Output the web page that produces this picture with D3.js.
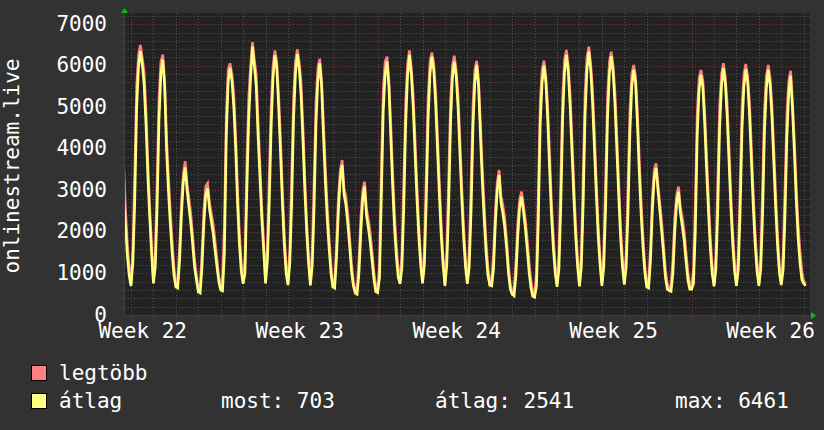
<!DOCTYPE html>
<html>
<head>
<meta charset="utf-8">
<script src="https://cdn.jsdelivr.net/npm/d3@7"></script>
<style>
  html, body { margin: 0; padding: 0; background: #323232; }
  svg { display: block; }
  text { font-family: "DejaVu Sans Mono", monospace; font-size: 21px; fill: #ffffff; }
</style>
</head>
<body>
<div id="chartContainer"></div>
<script>
var width = 824;
var height = 430;
var plot = {left: 124, right: 810, top: 13, bottom: 315};

// samples are 2 hour buckets, the first one starts 2023-05-31 16:00 UTC
var sampleStart = Date.UTC(2023, 4, 31, 16, 0);
var sampleStep = 2 * 3600 * 1000;

// average (átlag), one row per day, 12 buckets a day
var atlag = [
  2900, 2200, 1450, 950,
  700, 1250, 2700, 4950, 5950, 6350, 6050, 5550, 4600, 3350, 2350, 1500,
  760, 1150, 2600, 4700, 5800, 6150, 5500, 4000, 3000, 2200, 1500, 950,
  680, 650, 1300, 2400, 3200, 3550, 3000, 2600, 2200, 1700, 1150, 850,
  560, 530, 1150, 2200, 2900, 3050, 2550, 2250, 1950, 1550, 1150, 800,
  600, 580, 1500, 4300, 5600, 5950, 5650, 5000, 4000, 2700, 1700, 1050,
  750, 1000, 3000, 4700, 5700, 6461, 6000, 5500, 4300, 3300, 2300, 1550,
  760, 1300, 2700, 4500, 5700, 6250, 5950, 5000, 3900, 2700, 1700, 1000,
  720, 1250, 2700, 4700, 5800, 6280, 5950, 5300, 4200, 3000, 2000, 1250,
  710, 1200, 2600, 4600, 5650, 6060, 5500, 4300, 3200, 2300, 1600, 1000,
  680, 650, 1400, 2500, 3300, 3610, 2900, 2650, 2200, 1650, 1050, 700,
  530, 500, 1000, 2000, 2800, 3090, 2400, 2100, 1750, 1300, 850, 560,
  540, 900, 2900, 4900, 5800, 6100, 5500, 4300, 3100, 2100, 1400, 900,
  750, 1150, 2600, 4600, 5750, 6260, 5800, 5000, 3900, 2800, 1900, 1200,
  760, 1200, 2700, 4700, 5800, 6220, 5900, 5100, 4000, 2900, 1900, 1200,
  700, 1200, 2600, 4600, 5700, 6100, 5750, 5000, 3900, 2800, 1850, 1150,
  750, 1150, 2500, 4500, 5600, 6020, 5500, 4300, 3200, 2300, 1500, 950,
  720, 700, 1100, 2200, 3000, 3370, 2700, 2450, 2100, 1600, 1000, 620,
  500, 460, 950, 1900, 2600, 2850, 2500, 2100, 1600, 1050, 650, 450,
  430, 700, 2300, 4600, 5600, 6000, 5600, 4700, 3500, 2400, 1600, 1000,
  680, 1100, 2600, 4700, 5850, 6260, 5850, 5000, 3900, 2800, 1850, 1150,
  690, 1150, 2700, 4800, 5900, 6340, 5900, 5100, 4000, 2900, 1900, 1200,
  700, 1150, 2600, 4700, 5800, 6230, 5850, 5050, 3950, 2850, 1850, 1150,
  730, 1150, 2500, 4400, 5500, 5900, 5600, 4600, 3400, 2400, 1600, 1000,
  680, 650, 1300, 2500, 3300, 3530, 3000, 2500, 2000, 1450, 900, 620,
  590, 570, 1000, 2000, 2700, 2970, 2450, 2150, 1800, 1300, 850, 620,
  620, 750, 2000, 4300, 5400, 5780, 5500, 4600, 3500, 2500, 1600, 1000,
  690, 1100, 2500, 4500, 5500, 5940, 5600, 4800, 3700, 2600, 1700, 1050,
  700, 1100, 2500, 4500, 5500, 5910, 5600, 4800, 3700, 2600, 1700, 1050,
  700, 1100, 2400, 4400, 5450, 5900, 5550, 4750, 3650, 2550, 1650, 1000,
  720, 1100, 2400, 4300, 5350, 5760, 4950, 3900, 2750, 1850, 1250, 850,
  760, 703
];

// maximum (legtöbb), same buckets
var legtobb = [
  3700, 2600, 1750, 1150,
  750, 1600, 3400, 5500, 6250, 6500, 6200, 5850, 4950, 3680, 2630, 1700,
  810, 1500, 3300, 5250, 6100, 6270, 5650, 4300, 3350, 2530, 1780, 1150,
  720, 800, 1650, 2750, 3400, 3700, 3150, 2800, 2430, 1920, 1330, 970,
  600, 680, 1500, 2550, 3100, 3170, 2700, 2450, 2180, 1770, 1330, 920,
  650, 930, 2200, 4850, 5900, 6060, 5800, 5300, 4350, 3030, 1980, 1250,
  800, 1350, 3700, 5250, 6000, 6570, 6150, 5800, 4650, 3630, 2580, 1750,
  810, 1650, 3400, 5050, 6000, 6370, 6100, 5300, 4250, 3030, 1980, 1200,
  770, 1600, 3400, 5250, 6100, 6390, 6100, 5600, 4550, 3330, 2280, 1450,
  760, 1550, 3300, 5150, 5950, 6170, 5650, 4600, 3550, 2630, 1880, 1200,
  720, 800, 1750, 2850, 3500, 3730, 3050, 2850, 2430, 1870, 1230, 820,
  570, 650, 1350, 2350, 3000, 3210, 2550, 2300, 1980, 1520, 1030, 680,
  590, 1250, 3600, 5450, 6100, 6220, 5650, 4600, 3450, 2430, 1680, 1100,
  800, 1500, 3300, 5150, 6050, 6370, 5950, 5300, 4250, 3130, 2180, 1400,
  810, 1550, 3400, 5250, 6100, 6320, 6050, 5400, 4350, 3230, 2180, 1400,
  750, 1550, 3300, 5150, 6000, 6240, 5900, 5300, 4250, 3130, 2130, 1350,
  800, 1500, 3200, 5050, 5900, 6120, 5650, 4600, 3550, 2630, 1780, 1150,
  760, 850, 1450, 2550, 3200, 3490, 2850, 2650, 2330, 1820, 1180, 740,
  540, 610, 1300, 2250, 2800, 2970, 2650, 2300, 1830, 1270, 830, 570,
  480, 1050, 3000, 5150, 5900, 6120, 5750, 5000, 3850, 2730, 1880, 1200,
  730, 1450, 3300, 5250, 6150, 6380, 6000, 5300, 4250, 3130, 2130, 1350,
  740, 1500, 3400, 5350, 6200, 6460, 6050, 5400, 4350, 3230, 2180, 1400,
  750, 1500, 3300, 5250, 6100, 6340, 6000, 5350, 4300, 3180, 2130, 1350,
  780, 1500, 3200, 4950, 5800, 6020, 5750, 4900, 3750, 2730, 1880, 1200,
  720, 800, 1650, 2850, 3500, 3650, 3150, 2700, 2230, 1670, 1080, 740,
  630, 720, 1350, 2350, 2900, 3090, 2600, 2350, 2030, 1520, 1030, 740,
  670, 1100, 2700, 4850, 5700, 5900, 5650, 4900, 3850, 2830, 1880, 1200,
  740, 1450, 3200, 5050, 5800, 6060, 5750, 5100, 4050, 2930, 1980, 1250,
  750, 1450, 3200, 5050, 5800, 6040, 5750, 5100, 4050, 2930, 1980, 1250,
  750, 1450, 3100, 4950, 5750, 6020, 5700, 5050, 4000, 2880, 1930, 1200,
  770, 1450, 3100, 4850, 5650, 5880, 5100, 4200, 3100, 2180, 1530, 1050,
  810, 760
];

var yTickValues = [0, 1000, 2000, 3000, 4000, 5000, 6000, 7000];
var weekLabels = ["Week 22", "Week 23", "Week 24", "Week 25", "Week 26"];
// labels sit in the middle of each ISO week
var weekMid = ["2023-06-01T12:00:00Z", "2023-06-08T12:00:00Z", "2023-06-15T12:00:00Z",
               "2023-06-22T12:00:00Z", "2023-06-29T12:00:00Z"];
var seriesNames = ["legtöbb", "átlag"];
var seriesColors = ["#ff8080", "#ffff80"];
var statLabels = ["most: 703", "átlag: 2541", "max: 6461"];

var svg = d3.select('#chartContainer')
    .append('svg')
    .attr("width", width)
    .attr("height", height);

svg.append('rect').attr('width', width).attr('height', height).attr('fill', '#323232');

var timeStart = new Date("2023-05-31T16:30:00Z");
var timeEnd = new Date("2023-07-01T06:43:00Z");

var xScale = d3.scaleUtc().domain([timeStart, timeEnd]).range([plot.left, plot.right]);
var yScale = d3.scaleLinear().domain([0, 7270]).range([plot.bottom, plot.top]);

function sampleTime(i) {
  return new Date(sampleStart + i * sampleStep);
}

// plot background
svg.append('rect')
    .attr('x', plot.left).attr('y', plot.top)
    .attr('width', plot.right - plot.left).attr('height', plot.bottom - plot.top)
    .attr('fill', '#222222');

/*** grid ***/
var grid = svg.append('g').attr('class', 'grid').attr('shape-rendering', 'crispEdges');

var minorY = d3.range(0, 7270, 200).filter(function(v) { return v % 1000 != 0; });
grid.selectAll('line.minor-y').data(minorY).enter().append('line')
    .attr('x1', plot.left - 2).attr('x2', plot.right)
    .attr('y1', function(d) { return Math.round(yScale(d)) + 0.5; })
    .attr('y2', function(d) { return Math.round(yScale(d)) + 0.5; })
    .attr('stroke', '#505050').attr('stroke-dasharray', '1,2');

var days = d3.utcDay.range(timeStart, timeEnd).filter(function(d) { return d.getUTCDay() != 1; });
grid.selectAll('line.minor-x').data(days).enter().append('line')
    .attr('y1', plot.top).attr('y2', plot.bottom + 2)
    .attr('x1', function(d) { return Math.round(xScale(d)) + 0.5; })
    .attr('x2', function(d) { return Math.round(xScale(d)) + 0.5; })
    .attr('stroke', '#505050').attr('stroke-dasharray', '1,2');

grid.selectAll('line.major-y').data(yTickValues.slice(1)).enter().append('line')
    .attr('x1', plot.left - 2).attr('x2', plot.right)
    .attr('y1', function(d) { return Math.round(yScale(d)) + 0.5; })
    .attr('y2', function(d) { return Math.round(yScale(d)) + 0.5; })
    .attr('stroke', '#7a3c3c').attr('stroke-dasharray', '1,2');

var mondays = d3.utcMonday.range(timeStart, timeEnd);
grid.selectAll('line.major-x').data(mondays).enter().append('line')
    .attr('y1', plot.top).attr('y2', plot.bottom + 2)
    .attr('x1', function(d) { return Math.round(xScale(d)) + 0.5; })
    .attr('x2', function(d) { return Math.round(xScale(d)) + 0.5; })
    .attr('stroke', '#7a3c3c').attr('stroke-dasharray', '1,2');

/*** lines ***/
svg.append('clipPath').attr('id', 'plotClip').append('rect')
    .attr('x', plot.left).attr('y', plot.top)
    .attr('width', plot.right - plot.left).attr('height', plot.bottom - plot.top);

var lineFunc = d3.line()
    .x(function(d, i) { return xScale(sampleTime(i)); })
    .y(function(d) { return yScale(d); });

var lines = svg.append('g').attr('clip-path', 'url(#plotClip)');
[legtobb, atlag].forEach(function(series, i) {
  lines.append('path')
      .attr('d', lineFunc(series))
      .attr('fill', 'none')
      .attr('stroke', seriesColors[i])
      .attr('stroke-width', 2.6)
      .attr('stroke-linejoin', 'miter');
});

/*** axes ***/
svg.append('line')
    .attr('x1', plot.left + 0.5).attr('x2', plot.left + 0.5)
    .attr('y1', plot.top).attr('y2', plot.bottom)
    .attr('stroke', '#404040');
svg.append('line')
    .attr('x1', plot.left).attr('x2', plot.right)
    .attr('y1', plot.bottom + 0.5).attr('y2', plot.bottom + 0.5)
    .attr('stroke', '#404040');

// green arrows at the axis ends
svg.append('path')
    .attr('d', 'M' + (plot.left - 3) + ',' + (plot.top) + 'L' + (plot.left + 0.5) + ',' + (plot.top - 5) + 'L' + (plot.left + 4) + ',' + plot.top + 'Z')
    .attr('fill', '#00c800');
svg.append('path')
    .attr('d', 'M' + (plot.right + 1) + ',' + (plot.bottom - 3) + 'L' + (plot.right + 6) + ',' + (plot.bottom + 0.5) + 'L' + (plot.right + 1) + ',' + (plot.bottom + 4) + 'Z')
    .attr('fill', '#00c800');

var yAxis = d3.axisLeft(yScale).tickValues(yTickValues).tickSize(0).tickPadding(17)
    .tickFormat(d3.format('d'));
var yAxisGroup = svg.append('g').attr('transform', 'translate(' + plot.left + ',0)');
yAxis(yAxisGroup);
yAxisGroup.select('.domain').remove();
yAxisGroup.selectAll('text').attr('fill', '#ffffff').attr('dy', '6px')
    .style('font-family', '"DejaVu Sans Mono", monospace').style('font-size', '21px');

var xAxis = d3.axisBottom(xScale)
    .tickValues(weekMid.map(function(d) { return new Date(d); }))
    .tickFormat(function(d, i) { return weekLabels[i]; })
    .tickSize(0).tickPadding(0);
var xAxisGroup = svg.append('g').attr('transform', 'translate(0,' + plot.bottom + ')');
xAxis(xAxisGroup);
xAxisGroup.select('.domain').remove();
xAxisGroup.selectAll('text').attr('fill', '#ffffff').attr('y', 23).attr('dy', 0)
    .style('font-family', '"DejaVu Sans Mono", monospace').style('font-size', '21px');

// vertical title
svg.append('text')
    .attr('transform', 'translate(19,' + ((plot.top + plot.bottom) / 2 + 2) + ') rotate(-90)')
    .attr('text-anchor', 'middle')
    .text('onlinestream.live');

/*** legend ***/
var legend = svg.append('g');
seriesNames.forEach(function(name, i) {
  var base = 380 + i * 28;
  legend.append('rect')
      .attr('x', 31.5).attr('y', base - 14.5)
      .attr('width', 15).attr('height', 15)
      .attr('fill', seriesColors[i]).attr('stroke', '#000000').attr('stroke-width', 1);
  legend.append('text').attr('x', 59).attr('y', base).text(name);
});
var statX = [221, 435, 675];
statLabels.forEach(function(s, i) {
  legend.append('text').attr('x', statX[i]).attr('y', 408).text(s);
});
</script>
</body>
</html>
